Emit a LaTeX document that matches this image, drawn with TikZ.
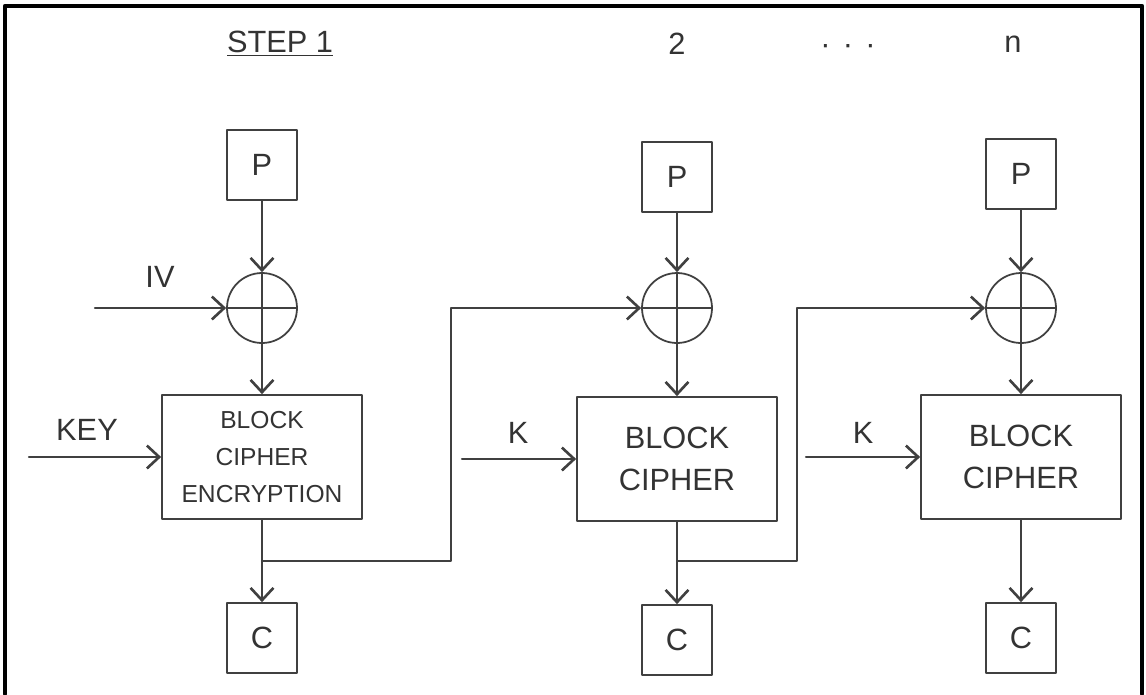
\documentclass[tikz,border=0pt]{standalone}
\usepackage{fontspec}
\setmainfont{Liberation Sans}
\usetikzlibrary{arrows.meta}

\begin{document}
\begin{tikzpicture}[line cap=round,line join=round,x=0.02cm,y=-0.02cm,
    >={Straight Barb[length=7pt,width=13pt,line width=1.5pt]},
    every node/.style={text=black!80,font=\fontsize{17.5}{21}\selectfont},
    flow/.style={draw=black!75,line width=1.2pt},
    smallbox/.style={draw=black!75,line width=1pt,minimum size=1.4cm,inner sep=0pt},
    cipherbox/.style={draw=black!75,line width=1pt,minimum width=4cm,minimum height=2.48cm,
      align=center,inner sep=0pt},
    xorop/.style={circle,draw=black!75,line width=1pt,minimum size=1.4cm,inner sep=0pt,
      path picture={\draw[black!75,line width=1pt]
        (path picture bounding box.north) -- (path picture bounding box.south)
        (path picture bounding box.west) -- (path picture bounding box.east);}}]
  \useasboundingbox (0,0) rectangle (1146,694);
  \draw[line width=2.5pt] (5,694) -- (5,6) -- (1142,6) -- (1142,694);

  % step headers
  \node (h1) at (280,44) {\underline{STEP 1}};
  \node (h2) at (677,44) {2};
  \node (hdots) at (848,49) {·\hspace{7pt}·\hspace{7pt}·};
  \node (hn) at (1013,44) {n};

  % step 1
  \node[smallbox] (p1) at (262,165) {P};
  \node[xorop] (x1) at (262,308) {};
  \node[cipherbox,font=\fontsize{14}{21}\selectfont] (b1) at (262,457) {BLOCK\\CIPHER\\ENCRYPTION};
  \node[smallbox] (c1) at (262,638) {C};
  \coordinate (iv) at (95,308);
  \coordinate (key) at (29,457);
  \node (ivlab) at (160,277) {IV};
  \node (keylab) at (87,430) {KEY};

  % step 2
  \node[smallbox] (p2) at (677,177) {P};
  \node[xorop] (x2) at (677,308) {};
  \node[cipherbox,font=\fontsize{17.5}{24}\selectfont] (b2) at (677,459) {BLOCK\\CIPHER};
  \node[smallbox] (c2) at (677,640) {C};
  \coordinate (k2) at (462,459);
  \node (k2lab) at (518,433) {K};

  % step n
  \node[smallbox] (p3) at (1021,174) {P};
  \node[xorop] (x3) at (1021,308) {};
  \node[cipherbox,font=\fontsize{17.5}{24}\selectfont] (b3) at (1021,457) {BLOCK\\CIPHER};
  \node[smallbox] (c3) at (1021,638) {C};
  \coordinate (k3) at (806,457);
  \node (k3lab) at (863,433) {K};

  % chaining
  \coordinate (j1) at (262,561);
  \coordinate (r1) at (451,561);
  \coordinate (j2) at (677,561);
  \coordinate (r2) at (797,561);

  \draw[flow,->] (p1) -- (x1);
  \draw[flow,->] (x1) -- (b1);
  \draw[flow,->] (b1) -- (c1);
  \draw[flow,->] (iv) -- (x1);
  \draw[flow,->] (key) -- (b1);
  \draw[flow,->] (j1) -- (r1) |- (x2);

  \draw[flow,->] (p2) -- (x2);
  \draw[flow,->] (x2) -- (b2);
  \draw[flow,->] (b2) -- (c2);
  \draw[flow,->] (k2) -- (b2);
  \draw[flow,->] (j2) -- (r2) |- (x3);

  \draw[flow,->] (p3) -- (x3);
  \draw[flow,->] (x3) -- (b3);
  \draw[flow,->] (b3) -- (c3);
  \draw[flow,->] (k3) -- (b3);
\end{tikzpicture}
\end{document}
